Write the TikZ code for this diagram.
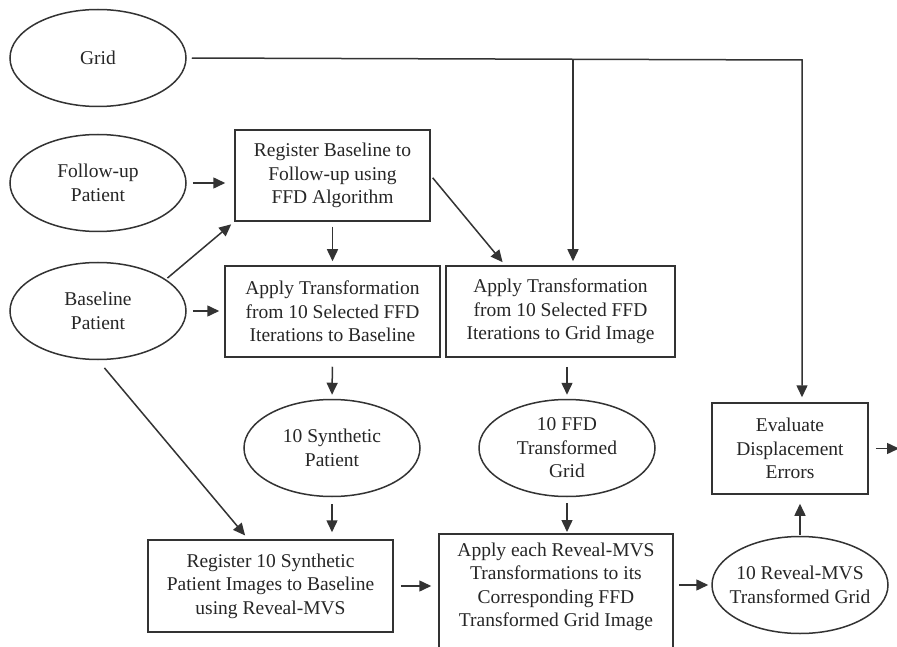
\documentclass[tikz,border=0pt]{standalone}
\usepackage{fontspec}
\setmainfont{Liberation Serif}
\newfontfamily\tnr{Liberation Serif}
\usetikzlibrary{arrows.meta,shapes.geometric,calc}
\definecolor{linec}{gray}{0.2}
\begin{document}
\begin{tikzpicture}[x=1pt,y=-1pt,
 every node/.style={font=\tnr\fontsize{19.5}{23.5}\selectfont, text=black!85},
 box/.style={draw=linec, line width=1.5pt, rectangle, inner sep=2pt, align=center},
 oval/.style={draw=linec, line width=1.5pt, ellipse, minimum width=176pt, minimum height=97pt, inner sep=0pt, align=center},
 arr/.style={draw=linec, line width=1.5pt, -{Triangle[length=12pt,width=11pt]}},
 ln/.style={draw=linec, line width=1.5pt}]
\useasboundingbox (0,0) rectangle (897,647);
\clip (0,0) rectangle (897,647);
\fill[white] (0,0) rectangle (897,647);

\node[oval] (grid) at (98,58) {Grid};
\node[oval] (fu) at (98,183) {Follow-up\\Patient};
\node[oval] (bl) at (98,311) {Baseline\\Patient};
\node[box, minimum width=195pt, minimum height=91pt] (reg) at (332.5,175.5) {Register Baseline to\\Follow-up using\\FFD Algorithm};
\node[box, minimum width=215pt, minimum height=91pt] (app1) at (332.5,311.5) {Apply Transformation\\from 10 Selected FFD\\Iterations to Baseline};
\node[box, minimum width=229pt, minimum height=91pt] (app2) at (560.5,311.5) {Apply Transformation\\from 10 Selected FFD\\Iterations to Grid Image};
\node[oval] (syn) at (332,448) {10 Synthetic\\Patient};
\node[oval] (ffd) at (567,448) {10 FFD\\Transformed\\Grid};
\node[box, minimum width=156pt, minimum height=91pt] (ev) at (790,448.5) {Evaluate\\Displacement\\Errors};
\node[box, minimum width=245pt, minimum height=92pt] (reg10) at (270.5,586) {Register 10 Synthetic\\Patient Images to Baseline\\using Reveal-MVS};
\node[box, minimum width=234pt, minimum height=124pt, anchor=north] (ae) at (556,533) {};
\node[align=center] (aet) at (556,587) {Apply each Reveal-MVS\\Transformations to its\\Corresponding FFD\\Transformed Grid Image};
\node[oval, inner xsep=-14pt, inner ysep=0pt] (rev) at (800,585) {10 Reveal-MVS\\Transformed Grid};

\coordinate (gc) at (802,60);
\coordinate (gb) at (573,60);
\coordinate (out) at (899,448.5);

\draw[arr, shorten <=6pt, shorten >=9pt] (fu.east) -- (fu.east -| reg.west);
\draw[arr, shorten <=2pt, shorten >=4pt] (bl.25) -- (reg.south west);
\draw[arr, shorten <=6pt, shorten >=5pt] (bl.east) -- (bl.east -| app1.west);
\draw[arr, shorten <=5pt, shorten >=4pt] (reg.south) -- (app1.north);
\draw[arr, shorten <=3pt, shorten >=4pt] (reg.east) -- ($(app2.north west)!0.26!(app2.north east)$);
\draw[arr, shorten <=5pt, shorten >=5pt] (grid.east) -- (gc) -- (gc |- ev.north);
\draw[arr, shorten >=4pt] (gb) -- (gb |- app2.north);
\draw[arr, shorten <=9pt, shorten >=4pt] (app1.south) -- (syn.north);
\draw[arr, shorten <=9pt, shorten >=4pt] (ffd.north |- app2.south) -- (ffd.north);
\draw[arr, shorten <=7pt, shorten >=7pt] (syn.south) -- (syn.south |- reg10.north);
\draw[arr, shorten <=10pt, shorten >=5pt] (bl.south) -- ($(reg10.north west)!0.41!(reg10.north east)$);
\draw[arr, shorten <=6pt, shorten >=1pt] (ffd.south) -- (ffd.south |- ae.north);
\draw[arr, shorten <=7pt, shorten >=7pt] (reg10.east) -- (reg10.east -| ae.west);
\draw[arr, shorten <=5pt, shorten >=3pt] (ae.east |- rev.west) -- (rev.west);
\draw[arr, shorten <=1pt, shorten >=9pt] (rev.north) -- (rev.north |- ev.south);
\draw[arr, shorten <=7pt] (ev.east) -- (out);
\end{tikzpicture}
\end{document}
